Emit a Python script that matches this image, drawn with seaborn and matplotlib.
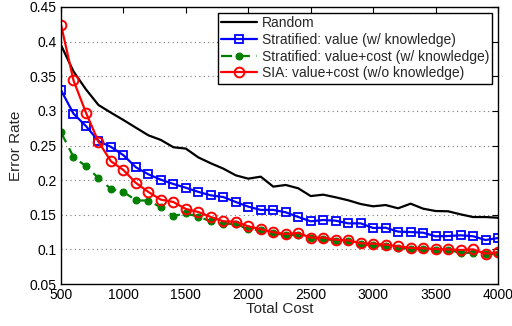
import numpy as np
import pandas as pd
import matplotlib
matplotlib.use("Agg")
import matplotlib.pyplot as plt
import seaborn as sns

cost = list(range(500, 4001, 100))

random_err = [0.395, 0.357, 0.331, 0.3085, 0.2974, 0.2868, 0.2757, 0.2647, 0.258, 0.2475,
              0.2455, 0.2328, 0.2243, 0.2166, 0.2069, 0.2021, 0.205, 0.1906, 0.193, 0.1882,
              0.177, 0.179, 0.1752, 0.1709, 0.1655, 0.1622, 0.164, 0.1593, 0.166, 0.1588,
              0.1554, 0.155, 0.1506, 0.1467, 0.1467, 0.1457]

strat_value = [0.330, 0.296, 0.278, 0.2565, 0.248, 0.236, 0.2185, 0.2084, 0.2006, 0.1944,
               0.189, 0.183, 0.178, 0.1756, 0.1684, 0.1617, 0.1569, 0.157, 0.1535, 0.1468,
               0.1405, 0.1424, 0.1414, 0.1376, 0.1376, 0.1309, 0.1313, 0.1256, 0.125, 0.1241,
               0.1189, 0.1193, 0.1203, 0.119, 0.1135, 0.1164]

strat_value_cost = [0.269, 0.2335, 0.220, 0.203, 0.1872, 0.1829, 0.1709, 0.1703, 0.1608, 0.1482,
                    0.152, 0.1472, 0.1405, 0.1367, 0.137, 0.129, 0.1275, 0.1235, 0.121, 0.1205,
                    0.1165, 0.1155, 0.1125, 0.112, 0.1075, 0.106, 0.1055, 0.102, 0.101, 0.1005,
                    0.0995, 0.0995, 0.095, 0.095, 0.0935, 0.0935]

sia_value_cost = [0.4245, 0.344, 0.2974, 0.2555, 0.2272, 0.2146, 0.1959, 0.1829, 0.1718, 0.1684,
                  0.1583, 0.154, 0.1468, 0.1405, 0.140, 0.1333, 0.129, 0.1247, 0.1222, 0.1237,
                  0.1169, 0.1169, 0.114, 0.1131, 0.1088, 0.1082, 0.1068, 0.1044, 0.102, 0.1015,
                  0.1005, 0.100, 0.0991, 0.100, 0.0938, 0.0957]

labels = ["Random",
          "Stratified: value (w/ knowledge)",
          "Stratified: value+cost (w/ knowledge)",
          "SIA: value+cost (w/o knowledge)"]

xticks = [500, 1000, 1500, 2000, 2500, 3000, 3500, 4000]
yticks = [0.05, 0.1, 0.15, 0.2, 0.25, 0.3, 0.35, 0.4, 0.45]
ytick_labels = ["0.05", "0.1", "0.15", "0.2", "0.25", "0.3", "0.35", "0.4", "0.45"]

sns.set_style("white")
plt.rcParams['font.family'] = ['Liberation Sans', 'DejaVu Sans']

fig = plt.figure(figsize=(5.12, 3.26), dpi=100)
ax = fig.add_axes([61/512, 1-284/326, (498-61)/512, (284-7)/326])

df = pd.DataFrame({"cost": cost, "random": random_err, "sv": strat_value,
                   "svc": strat_value_cost, "sia": sia_value_cost})

sns.lineplot(data=df, x="cost", y="random", ax=ax, color="black", lw=1.6,
             label=labels[0], estimator=None)
sns.lineplot(data=df, x="cost", y="sv", ax=ax, color="#0000ff", lw=1.6, marker="s",
             markersize=5.5, markerfacecolor="none", markeredgecolor="#0000ff",
             markeredgewidth=1.3, label=labels[1], estimator=None)
sns.lineplot(data=df, x="cost", y="svc", ax=ax, color="#008000", lw=1.6, ls=(0, (5, 3)),
             marker="o", markersize=5, markerfacecolor="#008000", markeredgecolor="#008000",
             label=labels[2], estimator=None)
sns.lineplot(data=df, x="cost", y="sia", ax=ax, color="#ff0000", lw=1.6, marker="o",
             markersize=7, markerfacecolor="none", markeredgecolor="#ff0000",
             markeredgewidth=1.4, label=labels[3], estimator=None)

ax.set_xlim(500, 4000)
ax.set_ylim(0.05, 0.45)
ax.set_xticks(xticks)
ax.set_xticklabels([str(t) for t in xticks])
ax.set_yticks(yticks)
ax.set_yticklabels(ytick_labels)
ax.tick_params(direction="in", top=True, right=True, length=4, width=0.8,
               labelsize=10, colors="black", pad=3)
ax.yaxis.grid(True, linestyle=(0, (1, 3)), color="#777777", lw=0.8)
ax.xaxis.grid(False)
for s in ax.spines.values():
    s.set_color("black")
    s.set_linewidth(1.0)

ax.set_xlabel("Total Cost", fontsize=11, labelpad=0)
ax.set_ylabel("Error Rate", fontsize=11, labelpad=5)

leg = ax.legend(loc="upper right", fontsize=10, frameon=True, fancybox=False,
                edgecolor="black", framealpha=1, borderpad=0.25, labelspacing=0.2,
                handlelength=2.6, handletextpad=0.3, borderaxespad=0.4)
leg.get_frame().set_linewidth(1.0)

fig.savefig("out.png", dpi=100)
